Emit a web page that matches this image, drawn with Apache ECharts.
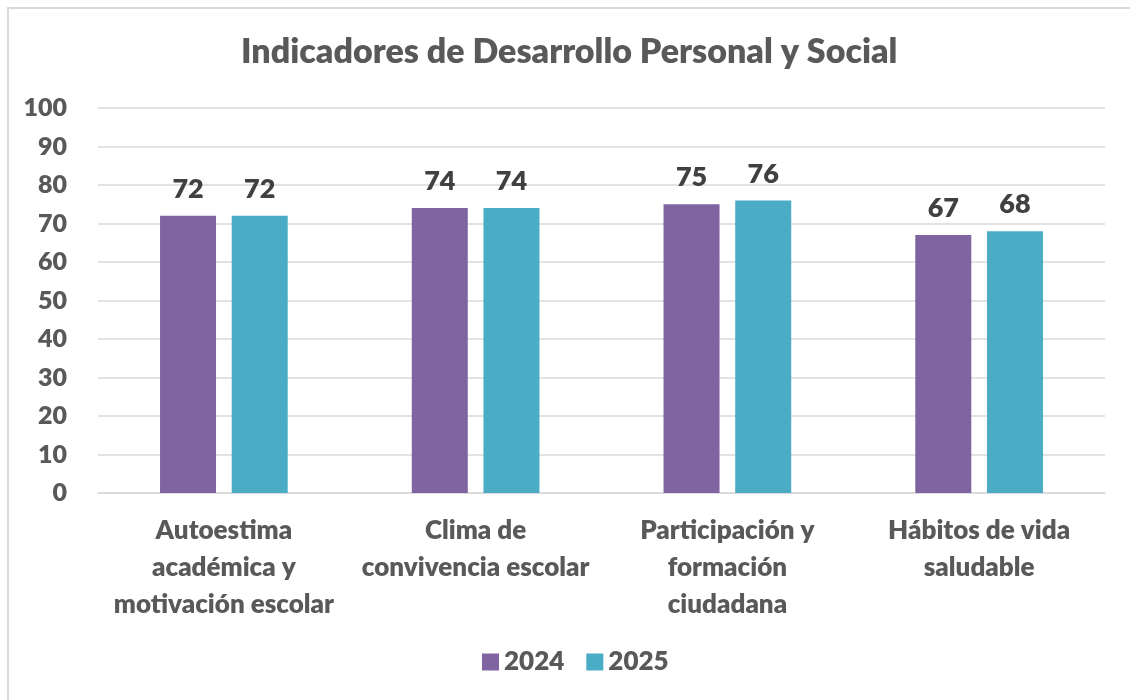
<!DOCTYPE html>
<html>
<head>
<meta charset="utf-8">
<script src="https://cdn.jsdelivr.net/npm/echarts@6/dist/echarts.min.js"></script>
<style>
  html, body { margin: 0; padding: 0; background: #fff; }
  #chart { width: 1130px; height: 700px; }
</style>
</head>
<body>
<div id="chart"></div>
<script>
// categorias y valores
const categories = [
  'Autoestima\nacadémica y\nmotivación escolar',
  'Clima de\nconvivencia escolar',
  'Participación y\nformación\nciudadana',
  'Hábitos de vida\nsaludable'
];
const values2024 = [72, 74, 75, 67];
const values2025 = [72, 74, 76, 68];
const yTicks = [0, 10, 20, 30, 40, 50, 60, 70, 80, 90, 100];

const font = 'Lato, "Open Sans", sans-serif';
const weight = 800;

var chart = echarts.init(document.getElementById('chart'));

const labelStyle = {
  show: true,
  position: 'top',
  distance: 13,
  color: '#404040',
  fontFamily: font,
  fontWeight: weight,
  fontSize: 27
};

const option = {
  animation: false,
  graphic: [{
    type: 'rect',
    shape: { x: 8, y: 8, width: 1140, height: 720 },
    style: { fill: 'none', stroke: '#d9d9d9', lineWidth: 2 }
  }],
  title: {
    text: 'Indicadores de Desarrollo Personal y Social',
    left: 236,
    top: 30,
    textStyle: {
      color: '#595959',
      fontFamily: font,
      fontWeight: weight,
      fontSize: 34
    }
  },
  legend: {
    bottom: 20,
    left: 477,
    itemWidth: 17,
    itemHeight: 17,
    itemGap: 22,
    icon: 'rect',
    textStyle: {
      color: '#595959',
      fontFamily: font,
      fontWeight: weight,
      fontSize: 26
    },
    data: ['2024', '2025']
  },
  grid: {
    left: 98,
    right: 25,
    top: 108,
    bottom: 207,
    containLabel: false
  },
  xAxis: {
    type: 'category',
    data: categories,
    axisTick: { show: false },
    axisLine: { lineStyle: { color: '#d9d9d9', width: 1.5 } },
    axisLabel: {
      color: '#595959',
      fontFamily: font,
      fontWeight: weight,
      fontSize: 26,
      lineHeight: 37,
      margin: 19,
      interval: 0
    }
  },
  yAxis: {
    type: 'value',
    min: yTicks[0],
    max: yTicks[yTicks.length - 1],
    interval: 10,
    axisLine: { show: false },
    axisTick: { show: false },
    splitLine: { lineStyle: { color: '#d9d9d9', width: 1.5 } },
    axisLabel: {
      color: '#595959',
      fontFamily: font,
      fontWeight: weight,
      fontSize: 25,
      margin: 31
    }
  },
  series: [
    {
      name: '2024',
      type: 'bar',
      data: values2024,
      barWidth: 56,
      barGap: '28%',
      itemStyle: { color: '#8064a2' },
      label: labelStyle
    },
    {
      name: '2025',
      type: 'bar',
      data: values2025,
      barWidth: 56,
      itemStyle: { color: '#4bacc6' },
      label: labelStyle
    }
  ]
};

chart.setOption(option);
</script>
</body>
</html>
